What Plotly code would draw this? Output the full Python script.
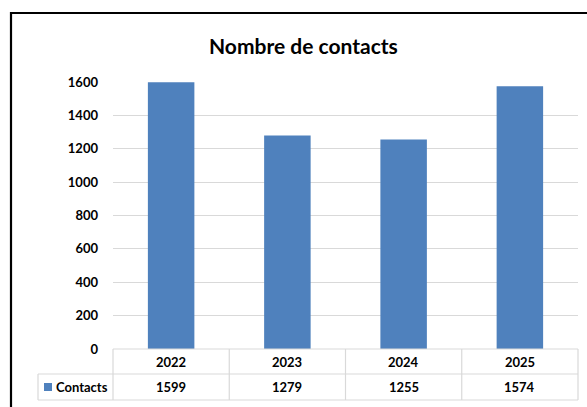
import plotly.graph_objects as go

# Annual contact counts
years = ["2022", "2023", "2024", "2025"]
contacts = [1599, 1279, 1255, 1574]
series_name = "Contacts"
chart_title = "Nombre de contacts"
y_ticks = [0, 200, 400, 600, 800, 1000, 1200, 1400, 1600]

W, H = 587, 407
ML, MR, MT, MB = 113, 9, 82, 58
PW, PH = W - ML - MR, H - MT - MB

BLUE = "#4F81BD"
GRID = "#D9D9D9"
FONT = "Lato"


def px_x(px):
    return (px - ML) / PW


def px_y(py):
    return (H - MB - py) / PH


fig = go.Figure(
    go.Bar(
        x=years,
        y=contacts,
        name=series_name,
        marker=dict(color=BLUE, line=dict(width=0)),
        width=0.4,
        showlegend=False,
    )
)

n = len(years)
shapes = []
annotations = []

# outer chart frame
shapes.append(dict(type="rect", xref="paper", yref="paper",
                   x0=px_x(11), x1=px_x(640), y0=px_y(460), y1=px_y(13),
                   line=dict(color="#000000", width=2.2), layer="above"))

# data table beneath the plot
row1_top, row_mid, row_bot = px_y(349), px_y(374), px_y(400)
left_edge = px_x(38)
tcol = dict(color=GRID, width=1.2)
shapes.append(dict(type="line", xref="paper", yref="paper", x0=0, x1=1,
                   y0=row1_top, y1=row1_top, line=tcol))
shapes.append(dict(type="line", xref="paper", yref="paper", x0=left_edge, x1=1,
                   y0=row_mid, y1=row_mid, line=tcol))
shapes.append(dict(type="line", xref="paper", yref="paper", x0=left_edge, x1=1,
                   y0=row_bot, y1=row_bot, line=tcol))
shapes.append(dict(type="line", xref="paper", yref="paper", x0=left_edge, x1=left_edge,
                   y0=row_mid, y1=row_bot, line=tcol))
for i in range(n + 1):
    xp = i / n
    shapes.append(dict(type="line", xref="paper", yref="paper", x0=xp, x1=xp,
                       y0=row1_top, y1=row_bot, line=tcol))

# legend key square
shapes.append(dict(type="rect", xref="paper", yref="paper",
                   x0=px_x(44), x1=px_x(52), y0=px_y(391), y1=px_y(383),
                   fillcolor=BLUE, line=dict(width=0)))

cell_font = dict(family=FONT, size=13, color="#000000", weight="bold")
for i, (yr, val) in enumerate(zip(years, contacts)):
    xc = (i + 0.5) / n
    annotations.append(dict(text=yr, x=xc, y=(row1_top + row_mid) / 2, xref="paper",
                            yref="paper", showarrow=False, font=cell_font,
                            xanchor="center", yanchor="middle"))
    annotations.append(dict(text=str(val), x=xc, y=(row_mid + row_bot) / 2, xref="paper",
                            yref="paper", showarrow=False, font=cell_font,
                            xanchor="center", yanchor="middle"))
annotations.append(dict(text=series_name, x=px_x(54), y=(row_mid + row_bot) / 2,
                        xref="paper", yref="paper", showarrow=False, font=cell_font,
                        xanchor="left", yanchor="middle"))

# chart title
annotations.append(dict(text=chart_title, x=px_x(303), y=px_y(45), xref="paper",
                        yref="paper", showarrow=False, xanchor="center", yanchor="middle",
                        font=dict(family=FONT, size=21, color="#000000", weight="bold")))

fig.update_layout(
    width=W, height=H,
    margin=dict(l=ML, r=MR, t=MT, b=MB, pad=0),
    paper_bgcolor="#FFFFFF",
    plot_bgcolor="#FFFFFF",
    shapes=shapes,
    annotations=annotations,
    bargap=0.6,
    xaxis=dict(range=[-0.5, n - 0.5], showticklabels=False, showgrid=False,
               zeroline=False, showline=False, ticks=""),
    yaxis=dict(range=[0, 1600], tickvals=y_ticks, showgrid=True, gridcolor=GRID,
               gridwidth=1, zeroline=False, showline=False, ticks="",
               ticklabelstandoff=14,
               tickfont=dict(family=FONT, size=13, color="#000000", weight="bold")),
)

fig.write_html("out.html")
